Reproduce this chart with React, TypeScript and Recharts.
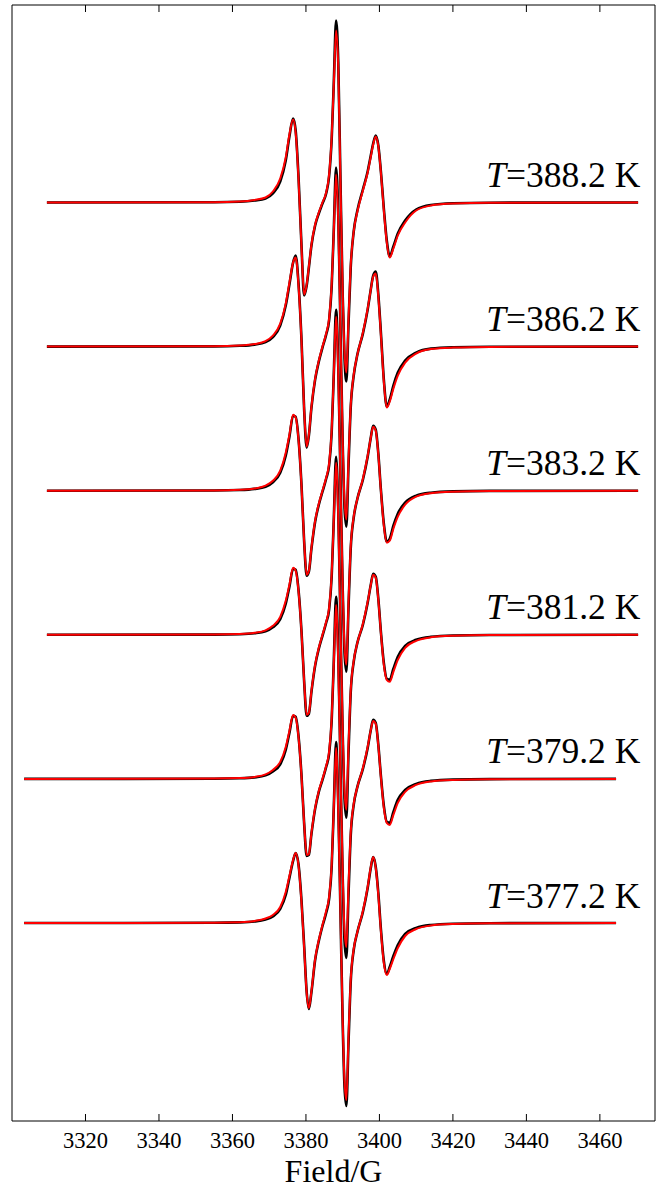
import React from 'react';
import { LineChart, Line, XAxis, YAxis, ReferenceDot } from 'recharts';

// Magnetic field grid (G) for the resonance region
const fields = [
  3355, 3362, 3366, 3369, 3371, 3373, 3374.5, 3375.5, 3376.5, 3377.2,
  3378, 3378.8, 3379.5, 3380.2, 3380.8, 3381.5, 3382.5, 3383.5, 3384.5, 3385.5,
  3386.3, 3387, 3387.6, 3388.2, 3388.8, 3389.4, 3390, 3390.5, 3391, 3391.6,
  3392.2, 3393, 3394, 3395.5, 3396.8, 3397.6, 3398.3, 3399, 3399.7, 3400.4,
  3401.2, 3402, 3402.8, 3403.8, 3405, 3407, 3410, 3414, 3420, 3430,
];

const temps = ['388.2', '386.2', '383.2', '381.2', '379.2', '377.2'];
const sweepStart = [3309.5, 3309.5, 3309.5, 3309.5, 3303.3, 3303.3];
const sweepEnd = [3470.4, 3470.4, 3470.4, 3470.4, 3464.4, 3464.4];

// fitted spectra (red)
const fit388 = [0.3, 1, 2.5, 5, 11, 24, 45, 68, 83, 70, 22, -45, -92, -82, -64, -42, -22, -10, 0, 10, 28, 65, 120, 172, 135, 20, -90, -150, -170, -115, -62, -29, -9, 12, 30, 45, 58, 66, 56, 30, -8, -40, -55, -46, -33, -20, -8, -3, -1, -0.3];
const fit386 = [0.3, 1, 2.5, 5.5, 11, 23, 43, 64, 84, 89, 60, 5, -62, -100, -88, -60, -32, -14, 0, 13, 28, 62, 118, 172, 125, 15, -95, -155, -173, -112, -58, -28, -8, 14, 38, 56, 70, 73, 50, 12, -35, -61, -55, -42, -29, -16, -7, -2.5, -1, -0.3];
const fit383 = [0.3, 0.9, 2.2, 5, 10, 20, 38, 56, 76, 73, 50, 4, -50, -84, -80, -57, -30, -13, 0, 13, 27, 60, 118, 174, 118, 10, -96, -156, -174, -110, -55, -26, -8, 12, 35, 52, 64, 60, 36, 0, -35, -52, -50, -38, -26, -14, -6, -2.5, -1, -0.3];
const fit381 = [0.3, 0.8, 2, 4.5, 9, 18, 34, 50, 67, 64, 43, 2, -46, -80, -78, -56, -30, -13, 0, 13, 27, 60, 117, 172, 118, 10, -96, -157, -175, -110, -55, -26, -8, 11, 33, 49, 60, 57, 35, 2, -30, -45, -47, -37, -25, -13, -6, -2.5, -1, -0.3];
const fit379 = [0.3, 0.8, 2, 4.5, 9, 17, 32, 48, 64, 61, 41, 2, -44, -76, -75, -54, -29, -12, 0, 13, 27, 60, 118, 174, 116, 10, -94, -152, -168, -106, -53, -25, -8, 11, 32, 48, 58, 55, 33, 2, -29, -44, -46, -36, -24, -13, -6, -2.5, -1, -0.3];
const fit377 = [0.3, 0.8, 2, 4.5, 8, 16, 31, 47, 63, 70, 57, 20, -24, -70, -85, -68, -36, -17, -2, 12, 26, 58, 118, 175, 112, 8, -98, -158, -177, -112, -56, -26, -9, 12, 36, 55, 66, 55, 28, -8, -40, -52, -46, -36, -25, -13, -6, -2.5, -1, -0.3];

// experimental spectra (black)
const exp388 = [0.2, 0.7, 2, 4, 9, 21, 42, 66, 84, 72, 24, -44, -93, -83, -65, -43, -23, -11, -1, 9, 26, 63, 122, 182, 140, 22, -93, -156, -179, -120, -64, -29, -8, 13, 31, 46, 59, 67, 57, 31, -6, -38, -54, -44, -31, -18, -7, -2.5, -0.8, -0.2];
const exp386 = [0.2, 0.8, 2, 4.5, 9.5, 21, 41, 62, 84, 91, 62, 6, -62, -101, -89, -61, -33, -15, -1, 12, 26, 60, 119, 179, 131, 17, -97, -161, -180, -117, -60, -29, -8, 13, 37, 56, 71, 75, 52, 14, -33, -60, -53, -39, -26, -14, -6, -2, -0.7, -0.2];
const exp383 = [0.2, 0.7, 1.8, 4, 8.5, 18, 35, 54, 75, 74, 51, 5, -50, -85, -81, -58, -31, -14, -1, 12, 25, 58, 119, 181, 124, 12, -98, -162, -181, -115, -57, -27, -8, 11, 34, 52, 65, 61, 37, 1, -33, -51, -48, -35, -23, -12, -5, -2, -0.7, -0.2];
const exp381 = [0.2, 0.6, 1.5, 3.5, 7.5, 15.5, 31, 48, 66, 65, 44, 3, -46, -81, -79, -57, -31, -14, -1, 12, 25, 58, 118, 178, 124, 12, -99, -164, -183, -116, -57, -27, -8, 10, 32, 49, 61, 58, 36, 3, -28, -44, -45, -34, -22, -11, -5, -2, -0.7, -0.2];
const exp379 = [0.2, 0.6, 1.5, 3.5, 7.5, 14.5, 29, 46, 63, 62, 42, 3, -44, -77, -76, -55, -30, -13, -1, 12, 25, 58, 120, 182, 124, 12, -98, -162, -179, -114, -56, -26, -8, 10, 31, 48, 59, 56, 34, 3, -27, -43, -44, -33, -21, -11, -5, -2, -0.7, -0.2];
const exp377 = [0.2, 0.6, 1.5, 3.5, 6.5, 14, 28, 45, 62, 70, 58, 22, -22, -69, -86, -69, -37, -18, -3, 10, 24, 56, 118, 181, 118, 10, -100, -164, -183, -118, -58, -27, -9, 11, 35, 54, 66, 56, 30, -6, -38, -51, -44, -33, -22, -11, -5, -2, -0.7, -0.2];

const fits = [fit388, fit386, fit383, fit381, fit379, fit377];
const exps = [exp388, exp386, exp383, exp381, exp379, exp377];

const xTicks = [3320, 3340, 3360, 3380, 3400, 3420, 3440, 3460];

// vertical stacking of spectra (signal units)
const STACK_BASE = 198;
const STACK_STEP = 144.1;
const Y_DOMAIN: [number, number] = [0, 1116];
const X_DOMAIN: [number, number] = [3300, 3475];
const LABEL_FIELD = 3471;

const FONT = 'Liberation Serif, serif';
const TICK_LEN = 7;
const TICK_MARGIN = 27;

function stackOffset(k: number) {
  return STACK_BASE + STACK_STEP * (temps.length - 1 - k);
}

function buildSeries(vals: number[], k: number) {
  const off = stackOffset(k);
  return [
    { x: sweepStart[k], y: off },
    ...fields.map((f, i) => ({ x: f, y: off + vals[i] })),
    { x: sweepEnd[k], y: off },
  ];
}

// bottom tick: inward tick mark + label below the axis
const BottomTick = (props: any) => {
  const { x, y, payload } = props;
  const axisY = y - TICK_MARGIN;
  return (
    <g>
      <line x1={x} x2={x} y1={axisY} y2={axisY - TICK_LEN} stroke="#000" strokeWidth={1} />
      <text x={x} y={y} textAnchor="middle" fill="#000" style={{ fontFamily: FONT, fontSize: 22.5 }}>
        {payload.value}
      </text>
    </g>
  );
};

// top tick: inward tick mark only
const TopTick = (props: any) => {
  const { x, y } = props;
  return <line x1={x} x2={x} y1={y} y2={y + TICK_LEN} stroke="#000" strokeWidth={1} />;
};

const TempLabel = (t: string) => (props: any) => {
  const vb = props.viewBox || {};
  return (
    <text x={vb.x} y={vb.y} textAnchor="end" fill="#000" style={{ fontFamily: FONT, fontSize: 35.5 }}>
      <tspan fontStyle="italic">T</tspan>
      <tspan>=</tspan>
      <tspan>{t} K</tspan>
    </text>
  );
};

export default function App() {
  return (
    <div style={{ position: 'absolute', left: 0, top: 0, width: 656, height: 1189, background: '#fff' }}>
      <LineChart
        width={656}
        height={1189}
        margin={{ top: 4, right: 0, left: 11, bottom: 0 }}
      >
        <XAxis
          xAxisId="b"
          dataKey="x"
          type="number"
          domain={X_DOMAIN}
          ticks={xTicks}
          orientation="bottom"
          height={68}
          tickSize={0}
          tickMargin={TICK_MARGIN}
          tickLine={false}
          axisLine={{ stroke: '#000' }}
          tick={BottomTick}
          label={{ value: 'Field/G', position: 'insideBottom', offset: 7, fill: '#000', fontSize: 32, fontFamily: FONT }}
          allowDataOverflow
        />
        <XAxis
          xAxisId="t"
          dataKey="x"
          type="number"
          domain={X_DOMAIN}
          ticks={xTicks}
          orientation="top"
          height={1}
          tickSize={0}
          tickMargin={0}
          tickLine={false}
          tick={TopTick}
          axisLine={{ stroke: '#000' }}
          allowDataOverflow
        />
        <YAxis
          yAxisId="l"
          type="number"
          domain={Y_DOMAIN}
          width={1}
          tick={false}
          tickLine={false}
          axisLine={{ stroke: '#000' }}
          allowDataOverflow
        />
        <YAxis
          yAxisId="r"
          orientation="right"
          type="number"
          domain={Y_DOMAIN}
          width={1}
          tick={false}
          tickLine={false}
          axisLine={{ stroke: '#000' }}
          allowDataOverflow
        />
        <Line
          xAxisId="t"
          yAxisId="r"
          data={[{ x: X_DOMAIN[0], y: Y_DOMAIN[0] }, { x: X_DOMAIN[1], y: Y_DOMAIN[1] }]}
          dataKey="y"
          stroke="none"
          dot={false}
          isAnimationActive={false}
        />
        {temps.map((t, k) => (
          <Line
            key={'e' + t}
            xAxisId="b"
            yAxisId="l"
            data={buildSeries(exps[k], k)}
            dataKey="y"
            type="monotone"
            stroke="#000"
            strokeWidth={2.6}
            dot={false}
            isAnimationActive={false}
          />
        ))}
        {temps.map((t, k) => (
          <Line
            key={'f' + t}
            xAxisId="b"
            yAxisId="l"
            data={buildSeries(fits[k], k)}
            dataKey="y"
            type="monotone"
            stroke="#ff0000"
            strokeWidth={2}
            dot={false}
            isAnimationActive={false}
          />
        ))}
        {temps.map((t, k) => (
          <ReferenceDot
            key={'l' + t}
            xAxisId="b"
            yAxisId="l"
            x={LABEL_FIELD}
            y={stackOffset(k) + 15.5}
            r={0}
            fill="none"
            stroke="none"
            label={{ content: TempLabel(t) }}
          />
        ))}
      </LineChart>
    </div>
  );
}
